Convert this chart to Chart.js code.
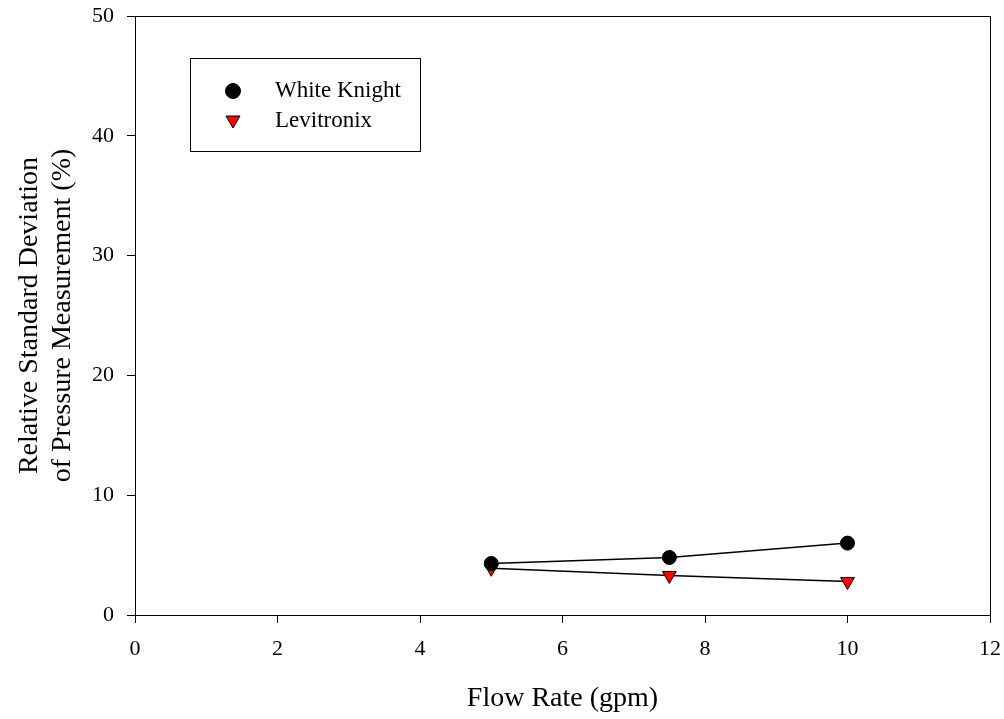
<!DOCTYPE html>
<html>
<head>
<meta charset="utf-8">
<script src="https://cdn.jsdelivr.net/npm/chart.js@4"></script>
<style>
  html, body { margin: 0; padding: 0; background: #fff; }
  #wrap { width: 1004px; height: 719px; }
</style>
</head>
<body>
<div id="wrap"><canvas id="chart" width="1004" height="719"></canvas></div>
<script>
// data
const flowRates = [5, 7.5, 10];
const whiteKnight = [4.3, 4.8, 6.0];
const levitronix = [3.9, 3.3, 2.8];
const xTicks = [0, 2, 4, 6, 8, 10, 12];
const yTicks = [0, 10, 20, 30, 40, 50];

const serif = "'Liberation Serif', 'Times New Roman', serif";

function toPoints(xs, ys) {
  return xs.map(function (x, i) { return { x: x, y: ys[i] }; });
}

// keep label overflow from pushing the plot area in
function noOverflow(s) {
  s.paddingTop = 0;
  s.paddingBottom = 0;
  s.paddingLeft = 0;
  s.paddingRight = 0;
}

// frame around the plot + legend box inside it
const framePlugin = {
  id: 'frame',
  afterDraw: function (chart) {
    const ctx = chart.ctx;
    const a = chart.chartArea;
    ctx.save();
    ctx.strokeStyle = '#000';
    ctx.lineWidth = 1;
    ctx.strokeRect(a.left + 0.5, a.top + 0.5, a.right - a.left, a.bottom - a.top);

    // legend
    const bx = 190, by = 58, bw = 230, bh = 93;
    ctx.fillStyle = '#fff';
    ctx.fillRect(bx, by, bw, bh);
    ctx.strokeRect(bx + 0.5, by + 0.5, bw, bh);
    ctx.font = '23px ' + serif;
    ctx.textBaseline = 'middle';
    chart.data.datasets.forEach(function (ds, i) {
      const cy = by + 33 + i * 30;
      const cx = bx + 43;
      ctx.fillStyle = ds.pointBackgroundColor;
      ctx.strokeStyle = '#000';
      ctx.lineWidth = 1;
      ctx.beginPath();
      if (ds.pointStyle === 'circle') {
        ctx.arc(cx, cy, 7.5, 0, Math.PI * 2);
      } else {
        ctx.moveTo(cx - 7, cy - 5);
        ctx.lineTo(cx + 7, cy - 5);
        ctx.lineTo(cx, cy + 7);
        ctx.closePath();
      }
      ctx.fill();
      ctx.stroke();
      ctx.fillStyle = '#000';
      ctx.fillText(ds.label, bx + 85, cy);
    });
    ctx.restore();
  }
};

const ctx = document.getElementById('chart');
new Chart(ctx, {
  type: 'scatter',
  data: {
    datasets: [{
      label: 'White Knight',
      data: toPoints(flowRates, whiteKnight),
      showLine: true,
      borderColor: '#000',
      borderWidth: 1.5,
      pointStyle: 'circle',
      pointRadius: 7,
      pointBackgroundColor: '#000',
      pointBorderColor: '#000',
      pointBorderWidth: 1
    }, {
      label: 'Levitronix',
      data: toPoints(flowRates, levitronix),
      showLine: true,
      borderColor: '#000',
      borderWidth: 1.5,
      pointStyle: 'triangle',
      pointRotation: 180,
      pointRadius: 8,
      pointBackgroundColor: '#ff0000',
      pointBorderColor: '#000',
      pointBorderWidth: 1
    }]
  },
  options: {
    responsive: false,
    animation: false,
    layout: { padding: { top: 16, right: 14, left: 0, bottom: 0 } },
    plugins: {
      legend: { display: false },
      tooltip: { enabled: false }
    },
    scales: {
      x: {
        type: 'linear',
        min: 0,
        max: 12,
        afterBuildTicks: function (s) { s.ticks = xTicks.map(function (v) { return { value: v }; }); },
        afterFit: function (s) { s.height = 104; noOverflow(s); },
        grid: { drawOnChartArea: false, drawTicks: true, tickLength: 8, color: '#000' },
        border: { display: true, color: '#000', width: 1 },
        ticks: { color: '#000', font: { family: serif, size: 22 }, padding: 13, maxRotation: 0 },
        title: {
          display: true,
          text: 'Flow Rate (gpm)',
          color: '#000',
          font: { family: serif, size: 28 },
          padding: { top: 14 }
        }
      },
      y: {
        type: 'linear',
        min: 0,
        max: 50,
        afterBuildTicks: function (s) { s.ticks = yTicks.map(function (v) { return { value: v }; }); },
        afterFit: function (s) { s.width = 135; noOverflow(s); },
        grid: { drawOnChartArea: false, drawTicks: true, tickLength: 8, color: '#000' },
        border: { display: true, color: '#000', width: 1 },
        ticks: { color: '#000', font: { family: serif, size: 22 }, padding: 13 },
        title: {
          display: true,
          text: ['Relative Standard Deviation', 'of Pressure Measurement (%)'],
          color: '#000',
          font: { family: serif, size: 28, lineHeight: 1.15 },
          padding: { top: 14, bottom: 0 }
        }
      }
    }
  },
  plugins: [framePlugin]
});
</script>
</body>
</html>
